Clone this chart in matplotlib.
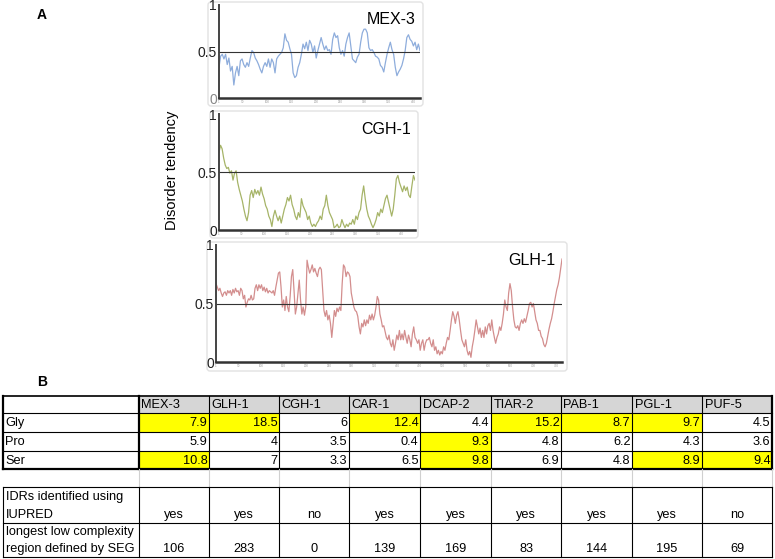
import numpy as np
import matplotlib
matplotlib.use("Agg")
import matplotlib.pyplot as plt
from matplotlib.patches import Rectangle, FancyBboxPatch

plt.rcParams['font.family'] = ['Liberation Sans', 'DejaVu Sans']

# ---------------- data: disorder tendency profiles ----------
mex3_len = 414
mex3 = [0.33,0.45,0.47,0.42,0.47,0.36,0.43,0.29,0.34,0.14,0.27,0.34,0.24,0.40,0.42,0.36,0.33,0.38,
        0.34,0.43,0.51,0.49,0.43,0.40,0.36,0.31,0.27,0.34,0.38,0.34,0.42,0.33,0.42,0.38,0.27,0.42,
        0.45,0.47,0.49,0.54,0.69,0.62,0.60,0.53,0.47,0.27,0.22,0.24,0.33,0.38,0.47,0.58,0.53,0.60,
        0.51,0.62,0.58,0.49,0.56,0.43,0.51,
        0.58,0.65,0.58,0.52,0.56,0.51,0.52,0.47,0.63,0.70,0.65,0.67,0.54,0.47,0.51,0.45,0.58,0.65,
        0.70,0.56,0.42,0.40,0.38,0.44,0.47,0.60,0.70,0.74,0.74,0.70,0.54,0.51,0.52,0.49,0.45,0.44,
        0.42,0.35,0.33,0.28,0.38,0.47,0.54,0.60,0.52,0.47,0.33,0.24,0.28,0.31,0.35,0.42,0.51,0.65,
        0.68,0.63,0.61,0.56,0.60,0.52,0.58,0.51]

cgh1_len = 430
cgh1 = [0.67,0.73,0.70,0.62,0.56,0.53,0.54,0.49,0.51,0.43,0.49,0.51,0.41,0.35,0.30,0.25,0.18,0.12,
        0.08,0.15,0.30,0.34,0.28,0.35,0.31,0.34,0.30,0.37,0.31,0.27,0.21,0.18,0.12,0.09,0.03,0.12,
        0.17,0.12,0.08,0.12,0.06,0.12,0.18,0.22,0.28,0.25,0.30,0.22,0.18,0.12,0.09,0.15,0.11,0.27,
        0.21,0.18,0.15,0.09,0.12,0.06,0.03,0.05,0.03,0.06,0.08,
        0.12,0.09,0.18,0.21,0.30,0.21,0.15,0.12,0.09,0.02,0.03,0.05,0.02,0.03,0.09,0.05,0.02,0.05,
        0.03,0.06,0.05,0.09,0.05,0.12,0.09,0.15,0.18,0.30,0.38,0.27,0.18,0.12,0.09,0.05,0.02,0.05,
        0.09,0.15,0.12,0.18,0.15,0.21,0.27,0.30,0.24,0.18,0.12,0.18,0.30,0.44,0.47,0.41,0.37,0.33,
        0.38,0.34,0.37,0.30,0.28,0.38,0.47,0.43]

glh1_len = 763
glh1 = [0.67,0.64,0.61,0.63,0.59,0.56,0.59,0.60,0.57,0.61,0.59,0.61,0.57,0.62,0.59,0.63,0.60,0.61,
        0.57,0.63,0.61,0.54,0.57,0.47,0.51,0.54,0.53,0.57,0.53,0.54,0.63,0.66,0.61,0.66,0.63,0.66,
        0.61,0.64,0.60,0.63,0.59,0.61,0.60,0.59,0.61,0.57,0.64,0.70,0.76,0.77,0.64,0.47,0.53,0.44,
        0.56,0.47,0.43,0.56,0.73,0.79,0.61,0.41,0.47,0.59,0.70,0.53,0.41,0.47,0.40,0.47,0.87,0.81,
        0.76,0.79,0.83,0.77,0.80,0.76,0.73,0.79,0.81,
        0.79,0.61,0.44,0.39,0.44,0.36,0.40,0.33,0.21,0.33,0.44,0.39,0.46,0.43,0.47,0.44,0.67,0.83,
        0.81,0.73,0.77,0.76,0.73,0.59,0.53,0.47,0.44,0.43,0.39,0.30,0.24,0.33,0.30,0.36,0.31,0.36,
        0.33,0.40,0.36,0.41,0.36,0.40,0.47,0.56,0.53,0.41,0.36,0.30,0.31,0.26,0.21,0.19,0.23,0.16,
        0.13,0.19,0.10,0.16,0.23,0.19,0.27,0.19,0.24,0.19,0.27,0.21,0.16,0.23,0.19,0.13,0.24,0.30,
        0.21,0.19,0.16,0.19,0.10,0.16,0.19,0.10,0.16,0.19,
        0.19,0.21,0.16,0.13,0.19,0.10,0.13,0.07,0.10,0.06,0.09,0.07,0.13,0.10,0.16,0.21,0.19,0.27,
        0.36,0.43,0.39,0.33,0.40,0.43,0.36,0.27,0.19,0.16,0.13,0.19,0.10,0.06,0.09,0.04,0.13,0.19,
        0.27,0.36,0.30,0.24,0.29,0.21,0.27,0.21,0.30,0.24,0.31,0.33,0.27,0.36,0.27,0.21,0.16,0.21,
        0.24,0.30,0.27,0.33,0.41,0.53,0.47,0.44,0.59,0.67,0.61,0.47,0.36,0.30,0.29,0.31,0.27,0.33,
        0.36,0.33,0.37,0.34,0.39,0.44,0.50,0.51,0.47,0.50,0.43,0.36,0.33,0.27,
        0.27,0.22,0.20,0.15,0.13,0.16,0.22,0.28,0.33,0.37,0.43,0.50,0.56,0.62,0.66,0.72,0.80,0.88]

# ---------------- data: table ----------------
genes = ['MEX-3', 'GLH-1', 'CGH-1', 'CAR-1', 'DCAP-2', 'TIAR-2', 'PAB-1', 'PGL-1', 'PUF-5']
row_names = ['Gly', 'Pro', 'Ser']
gly = [7.9, 18.5, 6, 12.4, 4.4, 15.2, 8.7, 9.7, 4.5]
pro = [5.9, 4, 3.5, 0.4, 9.3, 4.8, 6.2, 4.3, 3.6]
ser = [10.8, 7, 3.3, 6.5, 9.8, 6.9, 4.8, 8.9, 9.4]
gly_hl = [1, 1, 0, 1, 0, 1, 1, 1, 0]
pro_hl = [0, 0, 0, 0, 1, 0, 0, 0, 0]
ser_hl = [1, 0, 0, 0, 1, 0, 0, 1, 1]
idr = ['yes', 'yes', 'no', 'yes', 'yes', 'yes', 'yes', 'yes', 'no']
seg = [106, 283, 0, 139, 169, 83, 144, 195, 69]

# ---------------- figure ----------------
W, H = 775, 559
fig = plt.figure(figsize=(W / 100, H / 100), dpi=100)
bg = fig.add_axes([0, 0, 1, 1])
bg.set_xlim(0, W)
bg.set_ylim(H, 0)
bg.axis('off')


def px_axes(x0, y0, x1, y1):
    return fig.add_axes([x0 / W, 1 - y1 / H, (x1 - x0) / W, (y1 - y0) / H])


# panel boxes
for (bx0, by0, bx1, by1) in [(208, 2, 423, 106), (210, 111, 418, 238), (207, 242, 567, 371)]:
    bg.add_patch(FancyBboxPatch((bx0, by0), bx1 - bx0, by1 - by0,
                                boxstyle="round,pad=0,rounding_size=3",
                                fc='white', ec='#e2e2e2', lw=1.0))

bg.text(42, 15, 'A', fontsize=10, fontweight='bold', ha='center', va='center')
bg.text(42, 382, 'B', fontsize=10, fontweight='bold', ha='center', va='center')
bg.text(172, 170, 'Disorder tendency', fontsize=10.5, rotation=90, ha='center', va='center')

panels = [
    ('MEX-3', mex3, mex3_len, '#8eaddc', (219, 5, 420, 98)),
    ('CGH-1', cgh1, cgh1_len, '#a6b468', (219, 114, 415, 230)),
    ('GLH-1', glh1, glh1_len, '#d38e8e', (216, 245, 562, 362)),
]
for k, (name, vals, L, col, box) in enumerate(panels):
    ax = px_axes(*box)
    ax.set_facecolor('none')
    x = np.linspace(1, L, len(vals))
    ax.plot(x, vals, color=col, lw=0.9)
    ax.axhline(0.5, color='#333333', lw=0.8)
    ax.set_xlim(1, L)
    ax.set_ylim(0, 1)
    for s in ['top', 'right']:
        ax.spines[s].set_visible(False)
    ax.spines['left'].set_color('#444444')
    ax.spines['left'].set_linewidth(1.4)
    ax.spines['bottom'].set_color('#333333')
    ax.spines['bottom'].set_linewidth(1.8)
    ax.set_yticks([0, 0.5, 1])
    ax.set_yticklabels(['0', '0.5', '1'], fontsize=10, color='#222222')
    if k == 0:
        ax.get_yticklabels()[0].set_color('#888888')
    ax.tick_params(axis='y', length=0, pad=1.5)
    xt = [1] + list(range(50, L + 1, 50))
    ax.set_xticks(xt)
    ax.set_xticklabels([str(t) for t in xt], fontsize=2.2, color='#999999')
    ax.tick_params(axis='x', length=0, pad=1.5)
    ax.text(0.98, 0.93, name, transform=ax.transAxes, ha='right', va='top', fontsize=11.5)

# ---------------- table ----------------
col_edges = [3, 139, 209, 279, 349, 420, 491, 561, 632, 702, 772]
row_edges = [396, 413, 432, 451, 469, 487, 523, 557]
fs = 9.2

# header fill
for j in range(len(genes)):
    x0, x1 = col_edges[j + 1], col_edges[j + 2]
    bg.add_patch(Rectangle((x0, row_edges[0]), x1 - x0, row_edges[1] - row_edges[0],
                           fc='#d6d6d6', ec='none'))
    bg.text(x0 + 2.5, (row_edges[0] + row_edges[1]) / 2 + 0.5, genes[j], fontsize=fs,
            ha='left', va='center')

rows = [gly, pro, ser]
hls = [gly_hl, pro_hl, ser_hl]
for i, (rname, vals, hl) in enumerate(zip(row_names, rows, hls)):
    y0, y1 = row_edges[i + 1], row_edges[i + 2]
    yc = (y0 + y1) / 2 + 0.5
    bg.text(col_edges[0] + 2.5, yc, rname, fontsize=fs, ha='left', va='center')
    for j, v in enumerate(vals):
        x0, x1 = col_edges[j + 1], col_edges[j + 2]
        if hl[j]:
            bg.add_patch(Rectangle((x0, y0), x1 - x0, y1 - y0, fc='#ffff00', ec='none'))
        bg.text(x1 - 1.5, yc, f'{v:g}', fontsize=fs, ha='right', va='center')

# grid lines of top block
for y in row_edges[1:4]:
    bg.plot([col_edges[0], col_edges[-1]], [y, y], color='black', lw=0.8)
bg.plot([col_edges[0], col_edges[-1]], [row_edges[0], row_edges[0]], color='#222222', lw=1.4)
bg.plot([col_edges[0], col_edges[-1]], [row_edges[4], row_edges[4]], color='black', lw=1.6)
for k, x in enumerate(col_edges):
    lw = 1.6 if k in (0, 1, len(col_edges) - 1) else 0.8
    bg.plot([x, x], [row_edges[0], row_edges[4]], color='black', lw=lw)

# blank separator row
for x in col_edges[1:]:
    bg.plot([x, x], [row_edges[4], row_edges[5]], color='#d0d0d0', lw=0.8)

# bottom block
for y in row_edges[5:]:
    bg.plot([col_edges[0], col_edges[-1]], [y, y], color='black', lw=0.8)
for x in col_edges:
    bg.plot([x, x], [row_edges[5], row_edges[7]], color='black', lw=0.8)

bg.text(col_edges[0] + 2.5, 497, 'IDRs identified using', fontsize=fs, ha='left', va='center')
bg.text(col_edges[0] + 2.5, 515, 'IUPRED', fontsize=fs, ha='left', va='center')
bg.text(col_edges[0] + 2.5, 532, 'longest low complexity', fontsize=fs, ha='left', va='center')
bg.text(col_edges[0] + 2.5, 549, 'region defined by SEG', fontsize=fs, ha='left', va='center')
for j in range(len(genes)):
    xc = (col_edges[j + 1] + col_edges[j + 2]) / 2
    bg.text(xc, 515, idr[j], fontsize=fs, ha='center', va='center')
    bg.text(xc, 549, str(seg[j]), fontsize=fs, ha='center', va='center')

fig.savefig('out.png', dpi=100)
